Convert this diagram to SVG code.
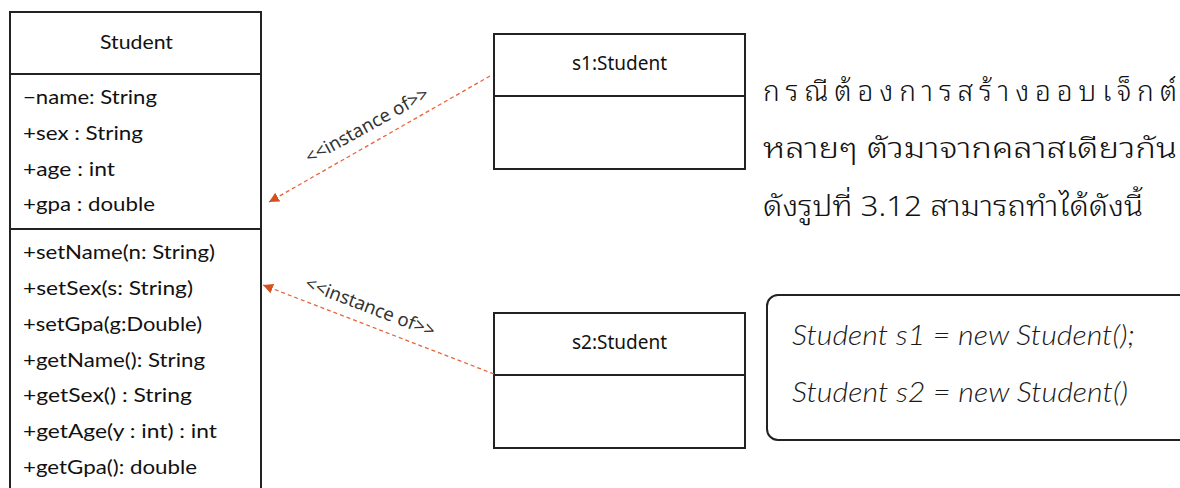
<svg xmlns="http://www.w3.org/2000/svg" width="1180" height="488" viewBox="0 0 1180 488">
  <defs>
    <style>
      .box { fill: #ffffff; stroke: #222222; stroke-width: 2; }
      .sep { stroke: #222222; stroke-width: 2; }
      .uml { font-family: "Lato", "Noto Sans", "DejaVu Sans", sans-serif; font-size: 19px; fill: #111111; }
      .obj { font-family: "Noto Sans", "DejaVu Sans", sans-serif; font-size: 19px; fill: #111111; }
      .lbl { font-family: "Noto Sans", "DejaVu Sans", sans-serif; font-size: 18.5px; fill: #333333; }
      .dep { fill: none; stroke: #e8643c; stroke-width: 1.3; stroke-dasharray: 4 3; }
      .thai { font-family: "Noto Sans Thai Looped", "Noto Sans Thai", "Noto Sans", "Liberation Sans", sans-serif; font-size: 28px; font-weight: 300; fill: #111111; }
      .code { font-family: "Lato", "Noto Sans", "DejaVu Sans", sans-serif; font-size: 27px; font-style: italic; font-weight: 300; fill: #1a1a1a; }
    </style>
    <marker id="tri" markerWidth="12" markerHeight="12" refX="10" refY="5" orient="auto" markerUnits="userSpaceOnUse">
      <path d="M0,0 L10,5 L0,10 Z" fill="#d4501e"/>
    </marker>
  </defs>

  <rect width="1180" height="488" fill="#ffffff"/>

  <!-- Student class -->
  <g id="student-class">
    <rect class="box" x="10" y="12" width="251" height="490"/>
    <line class="sep" x1="10" y1="74" x2="261" y2="74"/>
    <line class="sep" x1="10" y1="229" x2="261" y2="229"/>
    <text class="uml" x="100" y="49" textLength="73" lengthAdjust="spacingAndGlyphs">Student</text>
    <text class="uml" x="23" y="104" textLength="134" lengthAdjust="spacingAndGlyphs">−name: String</text>
    <text class="uml" x="23" y="140" textLength="120" lengthAdjust="spacingAndGlyphs">+sex : String</text>
    <text class="uml" x="23" y="176" textLength="92" lengthAdjust="spacingAndGlyphs">+age : int</text>
    <text class="uml" x="23" y="211" textLength="132" lengthAdjust="spacingAndGlyphs">+gpa : double</text>
    <text class="uml" x="23" y="259" textLength="192" lengthAdjust="spacingAndGlyphs">+setName(n: String)</text>
    <text class="uml" x="23" y="295" textLength="170" lengthAdjust="spacingAndGlyphs">+setSex(s: String)</text>
    <text class="uml" x="23" y="331" textLength="179" lengthAdjust="spacingAndGlyphs">+setGpa(g:Double)</text>
    <text class="uml" x="23" y="367" textLength="182" lengthAdjust="spacingAndGlyphs">+getName(): String</text>
    <text class="uml" x="23" y="402" textLength="169" lengthAdjust="spacingAndGlyphs">+getSex() : String</text>
    <text class="uml" x="23" y="438" textLength="194" lengthAdjust="spacingAndGlyphs">+getAge(y : int) : int</text>
    <text class="uml" x="23" y="474" textLength="174" lengthAdjust="spacingAndGlyphs">+getGpa(): double</text>
  </g>

  <!-- Object s1 -->
  <g id="s1-object">
    <rect class="box" x="494" y="34" width="251" height="135"/>
    <line class="sep" x1="494" y1="96" x2="745" y2="96"/>
    <text class="obj" x="619.5" y="70" text-anchor="middle">s1:Student</text>
  </g>

  <!-- Object s2 -->
  <g id="s2-object">
    <rect class="box" x="494" y="313" width="251" height="135"/>
    <line class="sep" x1="494" y1="375" x2="745" y2="375"/>
    <text class="obj" x="619.5" y="349" text-anchor="middle">s2:Student</text>
  </g>

  <!-- instance-of dependencies -->
  <g id="connectors">
    <line class="dep" x1="490" y1="76" x2="269" y2="202" marker-end="url(#tri)"/>
    <line class="dep" x1="494" y1="374" x2="263" y2="285" marker-end="url(#tri)"/>
    <text class="lbl" transform="translate(370,131) rotate(-29)" text-anchor="middle">&lt;&lt;instance of&gt;&gt;</text>
    <text class="lbl" transform="translate(368,313) rotate(21)" text-anchor="middle">&lt;&lt;instance of&gt;&gt;</text>
  </g>

  <!-- Description -->
  <g id="description">
    <text class="thai" x="763" y="101" textLength="414" lengthAdjust="spacing">กรณีต้องการสร้างออบเจ็กต์</text>
    <text class="thai" x="763" y="158" textLength="414" lengthAdjust="spacingAndGlyphs">หลายๆ ตัวมาจากคลาสเดียวกัน</text>
    <text class="thai" x="763" y="216" textLength="380" lengthAdjust="spacingAndGlyphs">ดังรูปที่ 3.12 สามารถทำได้ดังนี้</text>
  </g>

  <!-- Code sample -->
  <g id="code-box">
    <rect class="box" x="767" y="295" width="440" height="145" rx="11" ry="11"/>
    <text class="code" x="792" y="345" textLength="343" lengthAdjust="spacingAndGlyphs">Student s1 = new Student();</text>
    <text class="code" x="792" y="402" textLength="336" lengthAdjust="spacingAndGlyphs">Student s2 = new Student()</text>
  </g>
</svg>
